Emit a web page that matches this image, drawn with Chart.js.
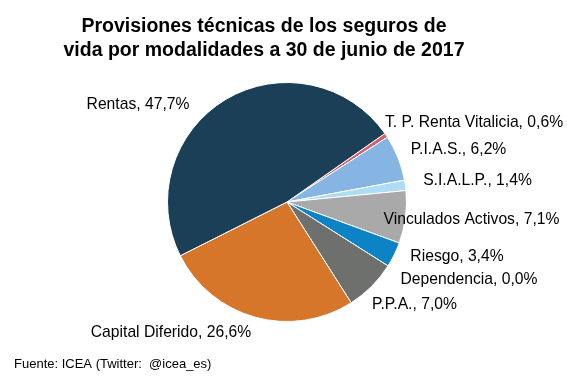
<!DOCTYPE html>
<html>
<head>
<meta charset="utf-8">
<script src="https://cdn.jsdelivr.net/npm/chart.js@4/dist/chart.umd.min.js"></script>
<style>
  html, body { margin: 0; padding: 0; background: #fff; }
</style>
</head>
<body>
<canvas id="pieChart" width="567" height="378"></canvas>
<script>
const categories = ['T. P. Renta Vitalicia', 'P.I.A.S.', 'S.I.A.L.P.', 'Vinculados Activos', 'Riesgo', 'Dependencia', 'P.P.A.', 'Capital Diferido', 'Rentas'];
const shares = [0.6, 6.2, 1.4, 7.1, 3.4, 0.0, 7.0, 26.6, 47.7];
const sliceColors = ['#d4606b', '#86b5e4', '#addcf4', '#a9a9a9', '#0b83c5', '#4f7f2e', '#6e706e', '#d5762b', '#1c3f58'];
const titleLines = ['Provisiones técnicas de los seguros de', 'vida por modalidades a 30 de junio de 2017'];
const sourceNote = 'Fuente: ICEA (Twitter:  @icea_es)';

// where each label sits, relative to the pie centre (label centre)
const labelOffsets = [[187, -79], [171.5, -52], [190.5, -21], [184.5, 18], [170, 55], [182, 78], [127.5, 103], [-116, 131], [-149, -97]];

const FONT = '"Liberation Sans", Arial, sans-serif';

function fmt(v) {
    return v.toFixed(1).replace('.', ',') + '%';
}

const textPlugin = {
    id: 'textPlugin',
    afterDraw(chart) {
        const ctx = chart.ctx;
        const arcs = chart.getDatasetMeta(0).data;
        const cx = arcs[0].x;
        const cy = arcs[0].y;

        ctx.save();
        ctx.fillStyle = '#000';
        ctx.textAlign = 'center';
        ctx.textBaseline = 'alphabetic';
        ctx.font = 'bold 19.5px ' + FONT;
        titleLines.forEach(function (t, i) {
            ctx.fillText(t, 264, 31.5 + i * 24.5);
        });

        // slice labels
        ctx.font = '15.7px ' + FONT;
        ctx.textBaseline = 'middle';
        categories.forEach(function (c, i) {
            const off = labelOffsets[i];
            ctx.fillText(c + ', ' + fmt(shares[i]), cx + off[0], cy + off[1]);
        });

        // source
        ctx.font = '13px ' + FONT;
        ctx.textAlign = 'left';
        ctx.fillText(sourceNote, 14, 364);
        ctx.restore();
    }
};

new Chart(document.getElementById('pieChart'), {
    type: 'pie',
    data: {
        labels: categories,
        datasets: [{
            data: shares,
            backgroundColor: sliceColors,
            borderColor: '#ffffff',
            borderWidth: 1
        }]
    },
    options: {
        responsive: false,
        animation: false,
        rotation: 55,
        layout: {
            padding: { left: 167, right: 160, top: 82, bottom: 56 }
        },
        plugins: {
            legend: { display: false },
            tooltip: { enabled: false },
            title: { display: false }
        }
    },
    plugins: [textPlugin]
});
</script>
</body>
</html>
